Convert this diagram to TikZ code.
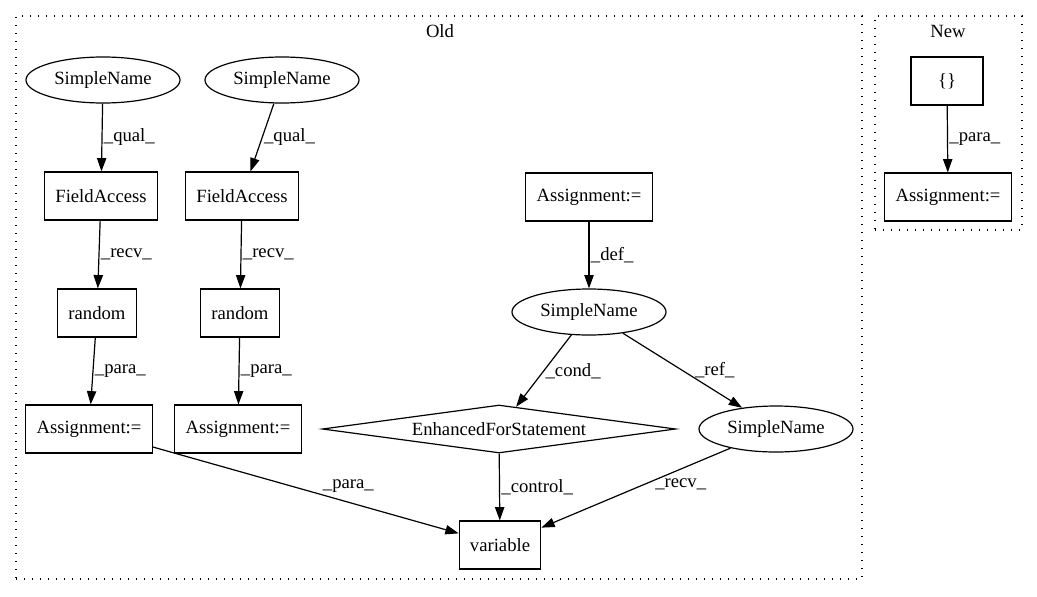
\documentclass[tikz,border=0pt]{standalone}
\usepackage{fontspec}
\setmainfont{Liberation Serif}
\usetikzlibrary{shapes.geometric, arrows.meta, positioning}

\begin{document}
\begin{tikzpicture}[x=0.75pt, y=-0.75pt, line width=0.9pt,
  font=\fontsize{14}{16}\selectfont,
  rectnode/.style={draw, minimum width=54pt, minimum height=36pt, inner xsep=8pt},
  ovalnode/.style={draw, ellipse, minimum width=115.5pt, minimum height=34.5pt, inner sep=0pt},
  diamondnode/.style={draw, diamond, aspect=7.36, minimum width=265pt, minimum height=36pt, inner sep=0pt},
  clusterbox/.style={draw, dash pattern=on 1pt off 5pt, minimum width=#1, inner sep=0pt},
  flow/.style={-{Triangle[length=10pt, width=7pt]}},
  edgelbl/.style={anchor=west, inner sep=1pt}]
  \useasboundingbox (0,0) rectangle (1037,596);

  % Clusters
  \node[clusterbox=634.5pt, minimum height=422.25pt] (old) at (439,297.5) {};
  \node (oldlbl) at (440,31) {Old};
  \node[clusterbox=110.25pt, minimum height=160.5pt] (new) at (948.5,123) {};
  \node (newlbl) at (948,31) {New};

  % Old: the two random() chains
  \node[ovalnode] (sna) at (103,80) {SimpleName};
  \node[ovalnode] (snb) at (282,80) {SimpleName};
  \node[rectnode] (faa) at (101,196) {FieldAccess};
  \node[rectnode] (fab) at (242,196) {FieldAccess};
  \node[rectnode] (rnda) at (97,313) {random};
  \node[rectnode] (rndb) at (240,313) {random};
  \node[rectnode] (asga) at (89,429) {Assignment:=};
  \node[rectnode] (asgb) at (238,429) {Assignment:=};

  % Old: the loop part
  \node[rectnode] (asgc) at (589,197) {Assignment:=};
  \node[ovalnode] (snc) at (589,312) {SimpleName};
  \node[diamondnode] (forstmt) at (499,429) {EnhancedForStatement};
  \node[ovalnode] (snd) at (776,429) {SimpleName};
  \node[rectnode] (var) at (500,545) {variable};

  % New
  \node[rectnode] (brace) at (947,81) {\{\}};
  \node[rectnode] (asgn) at (948,197) {Assignment:=};

  % Edges
  \draw[flow] (sna) -- node[edgelbl, pos=0.5] {\_qual\_} (faa);
  \draw[flow] (snb) -- node[edgelbl, pos=0.5] {\_qual\_} (fab);
  \draw[flow] (faa) -- node[edgelbl, pos=0.5] {\_recv\_} (rnda);
  \draw[flow] (fab) -- node[edgelbl, pos=0.5] {\_recv\_} (rndb);
  \draw[flow] (rnda) -- node[edgelbl, pos=0.5] {\_para\_} (asga);
  \draw[flow] (rndb) -- node[edgelbl, pos=0.5] {\_para\_} (asgb);
  \draw[flow] (asga) -- node[pos=0.55, anchor=south west, inner sep=1pt] {\_para\_} (var);
  \draw[flow] (asgc) -- node[edgelbl, pos=0.5] {\_def\_} (snc);
  \draw[flow] (snc) -- node[edgelbl, pos=0.5] {\_cond\_} (forstmt);
  \draw[flow] (snc) -- node[edgelbl, pos=0.5, xshift=8pt] {\_ref\_} (snd);
  \draw[flow] (forstmt) -- node[edgelbl, pos=0.5] {\_control\_} (var);
  \draw[flow] (snd) -- node[edgelbl, pos=0.45, xshift=6pt] {\_recv\_} (var);
  \draw[flow] (brace) -- node[edgelbl, pos=0.5] {\_para\_} (asgn);
\end{tikzpicture}
\end{document}
